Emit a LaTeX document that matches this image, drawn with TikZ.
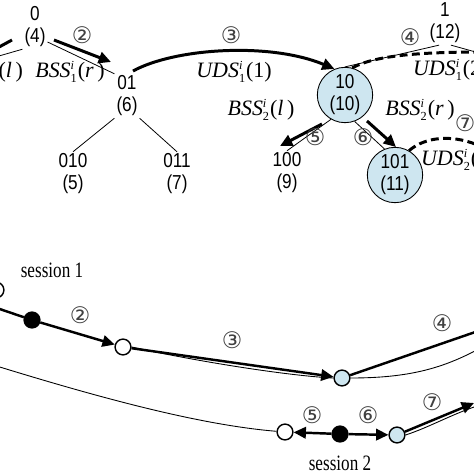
\documentclass[tikz,border=0pt]{standalone}
\usepackage{fontspec}
\setmainfont{Liberation Serif}
\newfontfamily\sansf[FakeStretch=0.85]{Liberation Sans}
\newfontfamily\sessf[FakeStretch=0.78]{Liberation Serif}
\newfontfamily\circf{DejaVu Sans}
\usetikzlibrary{arrows.meta}
\definecolor{lblue}{RGB}{206,230,240}
\newcommand{\lbl}[3]{\textit{#1}$^{\mbox{\scriptsize\textit{i}}}_{\mbox{\scriptsize #2}}$(#3)}
\begin{document}
\begin{tikzpicture}[x=0.02cm,y=-0.02cm,
  treelbl/.style={font=\sansf\fontsize{11.5}{12.5}\selectfont, align=center, inner sep=1pt},
  bigcirc/.style={treelbl, circle, draw, fill=lblue, minimum size=31.5pt, inner sep=0pt, line width=0.5pt},
  tree/.style={line width=0.45pt},
  tharr/.style={line width=1.7pt, -{Triangle[length=7pt,width=6.5pt]}},
  thline/.style={line width=1.7pt},
  dashl/.style={line width=1.7pt, dash pattern=on 4.5pt off 2.5pt},
  cnum/.style={font=\circf\fontsize{13}{13}\selectfont, text=black!75, inner sep=0pt},
  mlbl/.style={font=\fontsize{12.5}{13}\selectfont, inner sep=1pt},
  slbl/.style={font=\sessf\fontsize{12.5}{13}\selectfont, inner sep=1pt},
  scirc/.style={circle, draw, line width=0.8pt, minimum size=9pt, inner sep=0pt},
  barr/.style={line width=1.4pt, -{Triangle[length=7pt,width=6.5pt]}},
  bline/.style={line width=1.4pt},
  thinl/.style={line width=0.5pt}
]
\useasboundingbox (0,0) rectangle (474,474);
\clip (0,0) rectangle (474,474);

% ---------- top tree ----------
\node[treelbl] (n0) at (35,27) {0\\(4)};
\node[treelbl] (n01) at (127,96) {01\\(6)};
\node[treelbl] (n010) at (73,174) {010\\(5)};
\node[treelbl] (n011) at (177,174) {011\\(7)};
\node[treelbl] (n100) at (287,173) {100\\(9)};
\node[treelbl] (n1) at (445,23) {1\\(12)};
\node[bigcirc] (n10) at (345,95) {10\\(10)};
\node[bigcirc] (n101) at (395,175) {101\\(11)};

\coordinate (c00) at (-15,60);
\coordinate (c11) at (490,56);
\draw[tree] (n0.south west) -- (c00);
\draw[tree] (n0.-50) -- (n01.north west);
\draw[tree] (n01.south west) -- (n010.north);
\draw[tree] (n01.south east) -- (n011.north);
\draw[tree] (n1.-105) -- (n10.north);
\draw[tree] (n1.-75) -- (c11);
\draw[tree] (n10.240) -- (n100.north);
\draw[tree] (n10.-70) -- (n101.112);

% thick / dashed arrows
\coordinate (l1a) at (-12,53);
\coordinate (l1b) at (12,40);
\draw[thline] (l1a) -- (l1b);
\coordinate (a2s) at (54,40);
\coordinate (a2e) at (111,62);
\draw[tharr] (a2s) -- (a2e);
\coordinate (a3s) at (133,71);
\draw[tharr] (a3s) .. controls (175,48) and (270,42) .. (n10.112);
\coordinate (a4e) at (482,52);
\draw[dashl] (n10.75) .. controls (372,57) and (410,52) .. (a4e);
\coordinate (a5s) at (322,124);
\coordinate (a5e) at (280,146);
\draw[tharr] (a5s) -- (a5e);
\coordinate (a6s) at (367,121);
\coordinate (a6e) at (396,147);
\draw[tharr] (a6s) -- (a6e);
\coordinate (a7e) at (482,147);
\draw[dashl] (n101.60) .. controls (426,136) and (455,134) .. (a7e);

\node[cnum] (t2) at (82,35) {②};
\node[cnum] (t3) at (231,35) {③};
\node[cnum] (t4) at (410,37) {④};
\node[cnum] (t5) at (315,137) {⑤};
\node[cnum] (t6) at (363,137) {⑥};
\node[cnum] (t7) at (465,123) {⑦};

\node[mlbl, anchor=east] (m1) at (25,72) {\lbl{BSS}{1}{\textit{l}\,}};
\node[mlbl] (m2) at (70,72) {\lbl{BSS}{1}{\textit{r}\,}};
\node[mlbl] (m3) at (234,72) {\lbl{UDS}{1}{1}};
\node[mlbl, anchor=west] (m4) at (411,70) {\lbl{UDS}{1}{2}};
\node[mlbl] (m5) at (261,110) {\lbl{BSS}{2}{\textit{l}\,}};
\node[mlbl] (m6) at (420,110) {\lbl{BSS}{2}{\textit{r}\,}};
\node[mlbl, anchor=west] (m7) at (419,160) {\lbl{UDS}{2}{1}};

% ---------- bottom sessions ----------
\node[scirc, fill=white] (oL) at (-4,290) {};
\node[scirc, fill=black] (d1) at (32,320) {};
\node[scirc, fill=white] (o1) at (123,347) {};
\node[scirc, fill=lblue] (b1) at (342,378) {};
\node[scirc, fill=white] (o2) at (285,432) {};
\node[scirc, fill=black] (d2) at (340,434) {};
\node[scirc, fill=lblue] (b2) at (397,435) {};

\coordinate (inL) at (-15,304);
\draw[bline] (inL) -- (d1);
\draw[barr] (d1) -- (o1);
\draw[barr] (o1) -- (b1);
\draw[thinl] (o1.east) .. controls (200,362) and (290,376) .. (b1.west);
\coordinate (out4) at (484,329);
\draw[bline] (b1) -- (out4);
\coordinate (out4t) at (484,346);
\draw[thinl] (b1.east) .. controls (410,378) and (445,368) .. (out4t);

\coordinate (inL2) at (-10,364);
\draw[thinl] (inL2) .. controls (100,398) and (200,425) .. (o2);
\draw[barr] (d2) -- (o2);
\draw[barr] (d2) -- (b2);
\coordinate (out7) at (474,403);
\draw[barr] (b2) -- (out7);
\coordinate (out7t) at (480,405);
\draw[thinl] (b2.east) .. controls (430,427) and (452,414) .. (out7t);

\node[cnum] (s2) at (80,315) {②};
\node[cnum] (s3) at (232,340) {③};
\node[cnum] (s4) at (442,323) {④};
\node[cnum] (s5) at (312,415) {⑤};
\node[cnum] (s6) at (368,415) {⑥};
\node[cnum] (s7) at (432,402) {⑦};
\node[slbl] (ss1) at (52,270) {session 1};
\node[slbl] (ss2) at (340,463) {session 2};
\end{tikzpicture}
\end{document}
